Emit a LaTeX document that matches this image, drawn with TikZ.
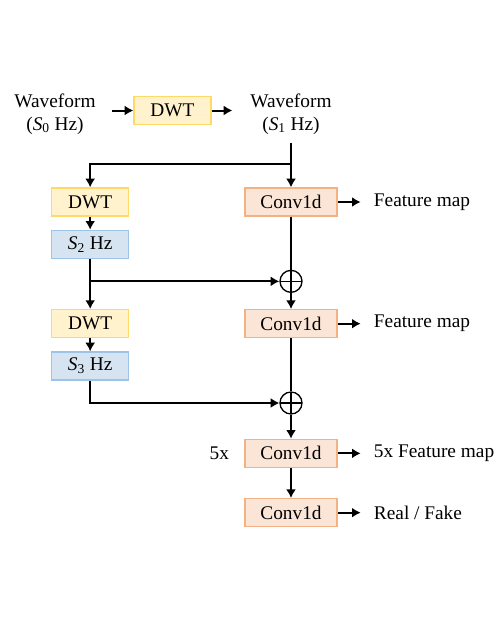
\documentclass[tikz,border=0pt]{standalone}
\usepackage{fontspec}
\setmainfont{Liberation Serif}
\usetikzlibrary{positioning,calc,arrows.meta}
\definecolor{dwtfill}{HTML}{FFF2CC}
\definecolor{dwtline}{HTML}{FFD966}
\definecolor{hzfill}{HTML}{D6E4F2}
\definecolor{hzline}{HTML}{9DC3E6}
\definecolor{convfill}{HTML}{FBE5D6}
\definecolor{convline}{HTML}{F4B183}
\tikzset{dwtbox/.style={draw=dwtline,fill=dwtfill,line width=1pt,minimum width=57.75pt,minimum height=21pt,inner sep=0pt},
         hzbox/.style={draw=hzline,fill=hzfill,line width=1pt,minimum width=57.75pt,minimum height=21pt,inner sep=0pt},
         convbox/.style={draw=convline,fill=convfill,line width=1pt,minimum width=69pt,minimum height=21pt,inner sep=0pt},
         plus/.style={draw,circle,line width=1pt,minimum size=16.5pt,inner sep=0pt,
           path picture={\draw[line width=1pt] (path picture bounding box.north) -- (path picture bounding box.south)
             (path picture bounding box.west) -- (path picture bounding box.east);}},
         outtext/.style={inner sep=0pt,anchor=west},
         line/.style={line width=1.5pt}
}
\tikzstyle{arrow} = [line width=1.5pt,->,>={Latex[length=6.5pt,width=7.5pt]}]

\begin{document}
\begin{tikzpicture}[x=0.75pt,y=-0.75pt,font=\fontsize{14.5}{17}\selectfont]
\useasboundingbox (0,0) rectangle (498,618);

\node[align=center] (wave0) at (55,114) {Waveform\\(\textit{S}\textsubscript{0} Hz)};
\node[dwtbox] (dwt0) at (172.5,110.5) {DWT};
\node[align=center] (wave1) at (291,114) {Waveform\\(\textit{S}\textsubscript{1} Hz)};
\node[convbox] (conv1) at (291,202) {Conv1d};
\coordinate[above=17.25pt of conv1] (split);
\node[dwtbox,left=86.25pt of conv1] (dwt1) {DWT};
\node[hzbox,below=9.75pt of dwt1] (s2) {\textit{S}\textsubscript{2} Hz};
\node[plus,below=39.75pt of conv1] (plus1) {};
\node[convbox,below=12pt of plus1] (conv2) {Conv1d};
\node[dwtbox,left=86.25pt of conv2] (dwt2) {DWT};
\node[hzbox,below=9.75pt of dwt2] (s3) {\textit{S}\textsubscript{3} Hz};
\node[plus,below=39.75pt of conv2] (plus2) {};
\node[convbox,below=18pt of plus2] (conv3) {Conv1d};
\node[left=8pt of conv3] (times) {5x};
\node[convbox,below=22.5pt of conv3] (conv4) {Conv1d};
\node[outtext,right=27pt of conv1] (feat1) {Feature map};
\node[outtext,right=27pt of conv2] (feat2) {Feature map};
\node[outtext,right=27pt of conv3] (feat3) {5x Feature map};
\node[outtext,right=27pt of conv4] (result) {Real / Fake};

% top row
\draw[arrow,shorten <=9pt] (wave0.east |- dwt0) -- (dwt0);
\draw[arrow,shorten >=10pt] (dwt0) -- (dwt0 -| wave1.west);
\draw[arrow,shorten <=3pt] (wave1.south) -- (conv1);
\draw[arrow] (split) -| (dwt1);
% left column
\draw[arrow] (dwt1) -- (s2);
\draw[arrow] (s2) -- (dwt2);
\draw[arrow] (s2.south |- plus1) -- (plus1);
\draw[arrow] (dwt2) -- (s3);
\draw[arrow] (s3.south) |- (plus2);
% right column
\draw[line] (conv1) -- (plus1);
\draw[arrow] (plus1) -- (conv2);
\draw[line] (conv2) -- (plus2);
\draw[arrow] (plus2) -- (conv3);
\draw[arrow] (conv3) -- (conv4);
% outputs
\draw[arrow,shorten >=9.75pt] (conv1) -- (feat1);
\draw[arrow,shorten >=9.75pt] (conv2) -- (feat2);
\draw[arrow,shorten >=9.75pt] (conv3) -- (feat3);
\draw[arrow,shorten >=9.75pt] (conv4) -- (result);

\end{tikzpicture}
\end{document}
